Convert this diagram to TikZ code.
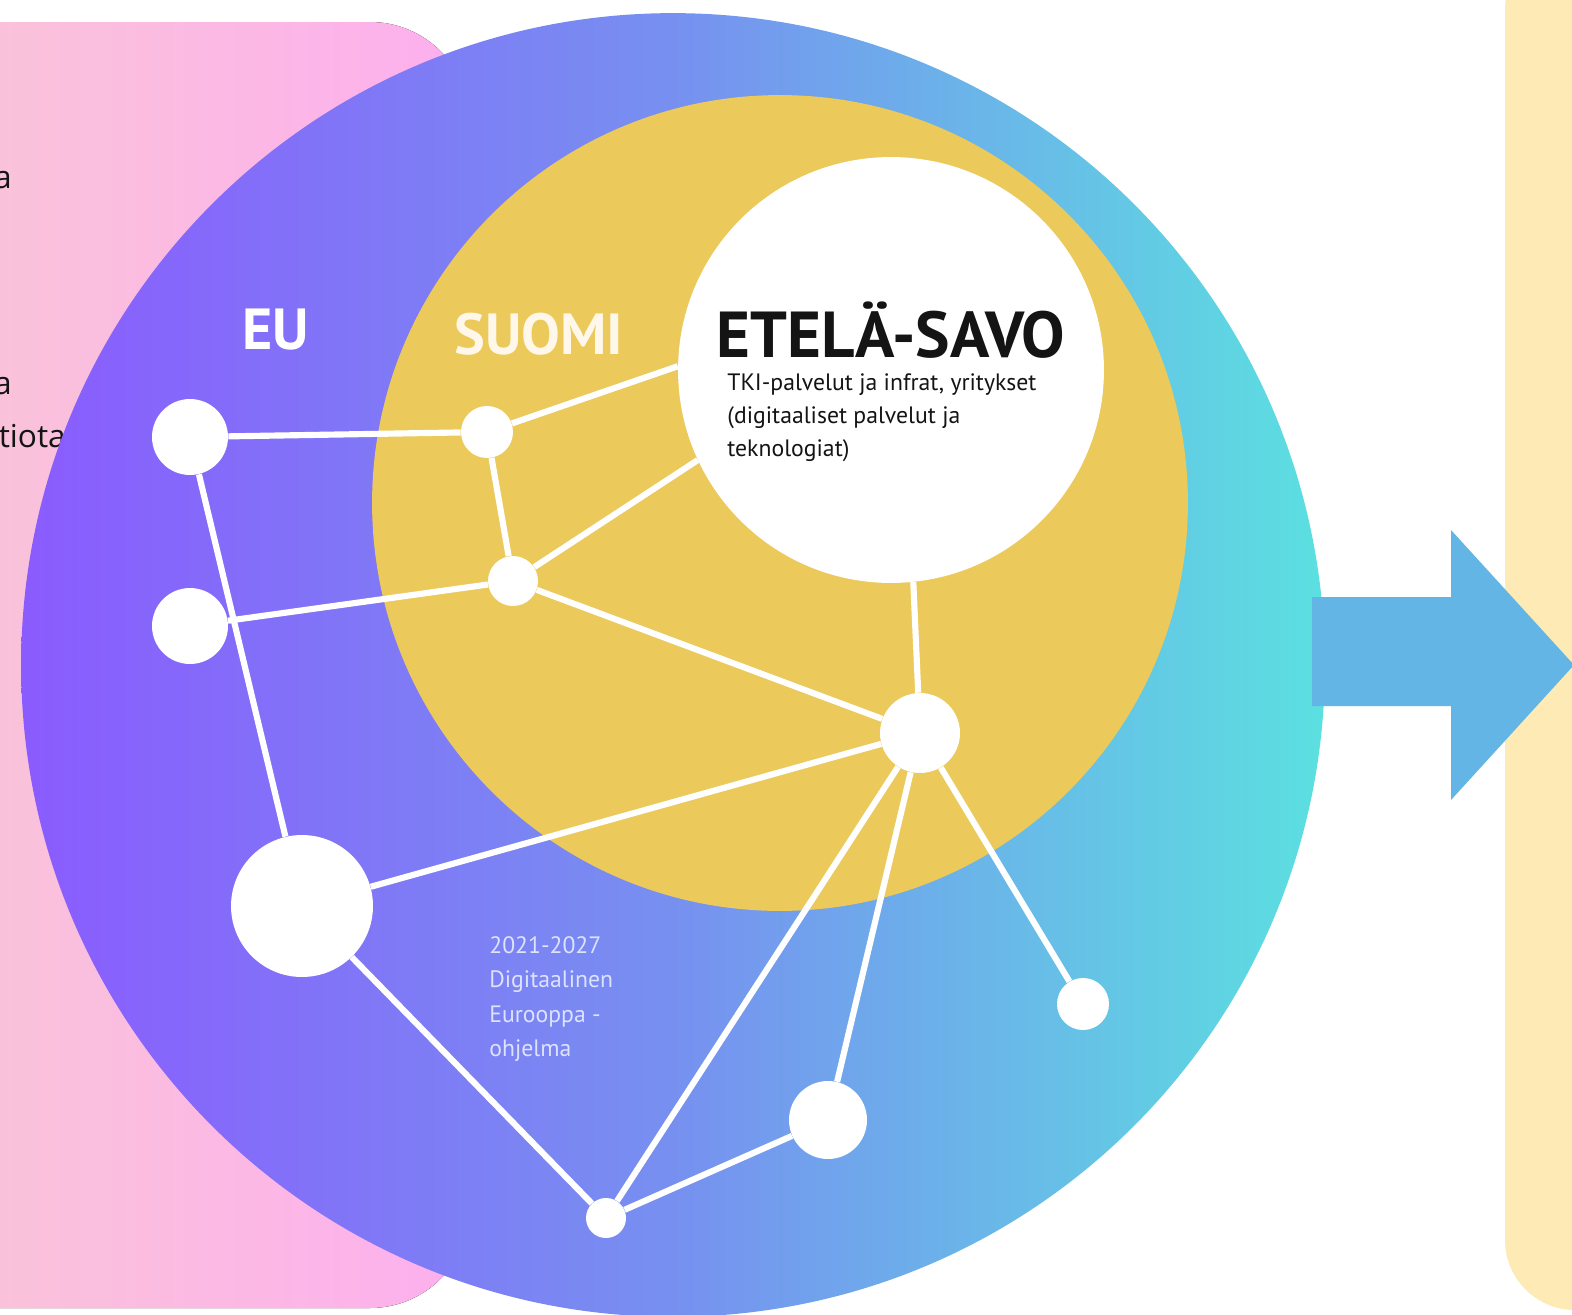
\documentclass[tikz,border=0pt]{standalone}
\usepackage{fontspec}
\setmainfont{PT Sans}
\newfontfamily\sidefont{Open Sans}
\usetikzlibrary{positioning}
\definecolor{eupurple}{HTML}{8A5BFE}
\definecolor{eumid}{HTML}{7790F0}
\definecolor{eucyan}{HTML}{5BE0E0}
\definecolor{suomigold}{HTML}{EBC95A}
\definecolor{pinkleft}{HTML}{F9C6D6}
\definecolor{pinkright}{HTML}{FDAFEE}
\definecolor{arrowblue}{HTML}{62B5E5}
\definecolor{creampanel}{HTML}{FDEAB4}
\definecolor{textdark}{HTML}{141414}
\definecolor{lavender}{HTML}{DDE2FF}
\definecolor{cream}{HTML}{FFF7EA}

\begin{document}
\begin{tikzpicture}[x=0.02cm, y=-0.02cm,
    dot/.style={circle, fill=white, inner sep=0pt},
    link/.style={white, line width=3.5pt},
    sidetext/.style={text=textdark, inner sep=0pt, font=\sidefont\fontsize{18}{20}\selectfont},
    heading/.style={font=\bfseries\fontsize{#1}{#1}\selectfont}]
    \clip (0,0) rectangle (1572,1315);
    % Side panels
    \fill[left color=pinkleft, right color=pinkright, rounded corners=2cm] (-100,22) rectangle (470,1308);
    \fill[creampanel, rounded corners=1.4cm] (1505,-60) rectangle (1700,1310);
    \node[sidetext, anchor=base east] (ta) at (12,188) {a};
    \node[sidetext, anchor=base east] (tb) at (12,394) {a};
    \node[sidetext, anchor=base west] (tc) at (-21,447) {ntiota};
    % Rings
    \node[circle, inner sep=0pt, minimum size=26.08cm, left color=eupurple, right color=eucyan, middle color=eumid] (eu) at (673,665) {};
    \node[circle, inner sep=0pt, minimum size=16.32cm, fill=suomigold] (suomi) at (780,503) {};
    \node[circle, inner sep=0pt, minimum size=8.52cm, fill=white] (es) at (891,370) {};
    % Arrow
    \fill[arrowblue] (1312,597) -- (1451,597) -- (1451,530) -- (1574,665) -- (1451,800) -- (1451,706) -- (1312,706) -- cycle;
    % Titles
    \node[heading=33, text=white] (eulabel) at (276,330) {EU};
    \node[heading=33, text=cream] (suomilabel) at (539,334) {SUOMI};
    \node[heading=37, text=textdark] (eslabel) at (891,330) {ETELÄ-SAVO};
    \node[anchor=north west, align=left, text=textdark, font=\fontsize{13.5}{19}\selectfont, inner sep=0pt] (estext) at (727,373)
      {TKI-palvelut ja infrat, yritykset\\(digitaaliset palvelut ja\\teknologiat)};
    \node[anchor=north west, align=left, text=lavender, font=\fontsize{13.5}{19.6}\selectfont, inner sep=0pt] (deptext) at (489,936)
      {2021-2027\\Digitaalinen\\Eurooppa -\\ohjelma};
    % Network
    \node[dot, minimum size=1.52cm] (n1) at (190,437) {};
    \node[dot, minimum size=1.52cm] (n2) at (190,626) {};
    \node[dot, minimum size=2.84cm] (n3) at (302,906) {};
    \node[dot, minimum size=1.04cm] (n4) at (487,432) {};
    \node[dot, minimum size=1.0cm] (n5) at (513,581) {};
    \node[dot, minimum size=1.6cm] (n6) at (920,733) {};
    \node[dot, minimum size=1.04cm] (n7) at (1083,1004) {};
    \node[dot, minimum size=1.56cm] (n8) at (828,1120) {};
    \node[dot, minimum size=0.8cm] (n9) at (606,1218) {};
    \draw[link] (n1) -- (n4);
    \draw[link] (n1) -- (n3);
    \draw[link] (n2) -- (n5);
    \draw[link] (n4) -- (es.179);
    \draw[link] (n4) -- (n5);
    \draw[link] (n5) -- (es.205);
    \draw[link] (n5) -- (n6);
    \draw[link] (es.-84) -- (n6);
    \draw[link] (n3) -- (n6);
    \draw[link] (n3) -- (n9);
    \draw[link] (n6) -- (n9);
    \draw[link] (n6) -- (n8);
    \draw[link] (n6) -- (n7);
    \draw[link] (n8) -- (n9);
\end{tikzpicture}
\end{document}
